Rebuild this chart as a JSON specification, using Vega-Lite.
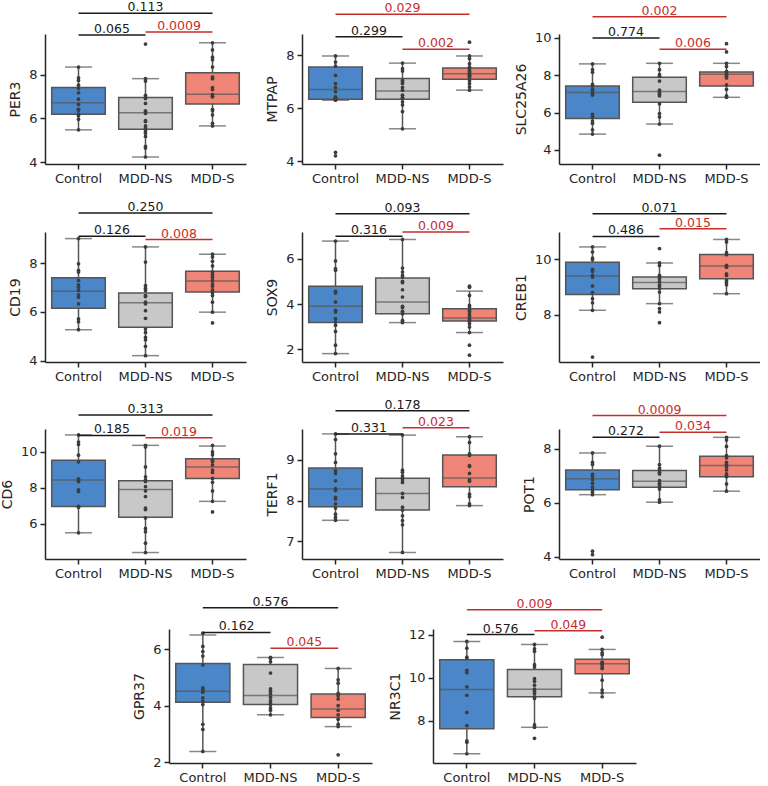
{
"$schema": "https://vega.github.io/schema/vega-lite/v6.json",
"padding": {"left": 0, "top": 1, "right": 0, "bottom": 0},
"config": {
  "view": {"stroke": null},
  "font": "DejaVu Sans",
  "axis": {"domainColor": "#262626", "domainWidth": 1.5, "tickColor": "#262626", "tickWidth": 1.5, "tickSize": 5, "labelFontSize": 13, "labelColor": "#262626", "titleFontSize": 14, "titleFontWeight": "normal", "titleColor": "#262626", "grid": false, "labelPadding": 3},
  "axisX": {"labelAngle": 0},
  "axisY": {"titlePadding": 6}
},
"datasets": {
"boxes": [
{"gene":"PER3","group":"Control","lo":5.48,"q1":6.19,"med":6.72,"q3":7.41,"hi":8.35},
{"gene":"PER3","group":"MDD-NS","lo":4.24,"q1":5.51,"med":6.26,"q3":6.96,"hi":7.82},
{"gene":"PER3","group":"MDD-S","lo":5.66,"q1":6.66,"med":7.11,"q3":8.09,"hi":9.46},
{"gene":"MTPAP","group":"Control","lo":6.31,"q1":6.35,"med":6.71,"q3":7.56,"hi":7.98},
{"gene":"MTPAP","group":"MDD-NS","lo":5.23,"q1":6.35,"med":6.66,"q3":7.13,"hi":7.71},
{"gene":"MTPAP","group":"MDD-S","lo":6.69,"q1":7.10,"med":7.31,"q3":7.53,"hi":7.98},
{"gene":"SLC25A26","group":"Control","lo":4.85,"q1":5.69,"med":7.08,"q3":7.43,"hi":8.61},
{"gene":"SLC25A26","group":"MDD-NS","lo":5.39,"q1":6.56,"med":7.13,"q3":7.90,"hi":8.64},
{"gene":"SLC25A26","group":"MDD-S","lo":6.82,"q1":7.43,"med":8.05,"q3":8.18,"hi":8.64},
{"gene":"CD19","group":"Control","lo":5.27,"q1":6.15,"med":6.85,"q3":7.40,"hi":9.00},
{"gene":"CD19","group":"MDD-NS","lo":4.21,"q1":5.37,"med":6.37,"q3":6.77,"hi":8.66},
{"gene":"CD19","group":"MDD-S","lo":5.99,"q1":6.81,"med":7.26,"q3":7.66,"hi":8.36},
{"gene":"SOX9","group":"Control","lo":1.81,"q1":3.18,"med":3.90,"q3":4.79,"hi":6.78},
{"gene":"SOX9","group":"MDD-NS","lo":3.18,"q1":3.57,"med":4.09,"q3":5.15,"hi":6.85},
{"gene":"SOX9","group":"MDD-S","lo":2.74,"q1":3.25,"med":3.38,"q3":3.79,"hi":4.57},
{"gene":"CREB1","group":"Control","lo":8.16,"q1":8.73,"med":9.40,"q3":9.90,"hi":10.45},
{"gene":"CREB1","group":"MDD-NS","lo":8.40,"q1":8.94,"med":9.16,"q3":9.36,"hi":9.87},
{"gene":"CREB1","group":"MDD-S","lo":8.76,"q1":9.30,"med":9.76,"q3":10.18,"hi":10.72},
{"gene":"CD6","group":"Control","lo":5.50,"q1":6.97,"med":8.44,"q3":9.54,"hi":10.95},
{"gene":"CD6","group":"MDD-NS","lo":4.40,"q1":6.37,"med":7.91,"q3":8.40,"hi":10.37},
{"gene":"CD6","group":"MDD-S","lo":7.25,"q1":8.53,"med":9.17,"q3":9.63,"hi":10.33},
{"gene":"TERF1","group":"Control","lo":7.52,"q1":7.85,"med":8.29,"q3":8.80,"hi":9.64},
{"gene":"TERF1","group":"MDD-NS","lo":6.73,"q1":7.77,"med":8.18,"q3":8.55,"hi":9.61},
{"gene":"TERF1","group":"MDD-S","lo":7.88,"q1":8.34,"med":8.56,"q3":9.12,"hi":9.57},
{"gene":"POT1","group":"Control","lo":6.30,"q1":6.48,"med":6.89,"q3":7.22,"hi":7.85},
{"gene":"POT1","group":"MDD-NS","lo":6.02,"q1":6.58,"med":6.80,"q3":7.20,"hi":8.10},
{"gene":"POT1","group":"MDD-S","lo":6.43,"q1":6.97,"med":7.38,"q3":7.73,"hi":8.43},
{"gene":"GPR37","group":"Control","lo":2.38,"q1":4.12,"med":4.51,"q3":5.50,"hi":6.51},
{"gene":"GPR37","group":"MDD-NS","lo":3.68,"q1":4.04,"med":4.36,"q3":5.46,"hi":5.71},
{"gene":"GPR37","group":"MDD-S","lo":3.26,"q1":3.58,"med":3.88,"q3":4.42,"hi":5.32},
{"gene":"NR3C1","group":"Control","lo":6.46,"q1":7.62,"med":9.45,"q3":10.83,"hi":11.68},
{"gene":"NR3C1","group":"MDD-NS","lo":7.69,"q1":9.11,"med":9.46,"q3":10.38,"hi":11.54},
{"gene":"NR3C1","group":"MDD-S","lo":9.29,"q1":10.18,"med":10.65,"q3":10.85,"hi":11.31}
],
"ann": [
{"gene":"PER3","g1":"Control","g2":"MDD-NS","pair":"C-NS","level":9.81,"label":"0.065","sig":"no"},
{"gene":"PER3","g1":"MDD-NS","g2":"MDD-S","pair":"NS-S","level":9.95,"label":"0.0009","sig":"yes"},
{"gene":"PER3","g1":"Control","g2":"MDD-S","pair":"C-S","level":10.81,"label":"0.113","sig":"no"},
{"gene":"MTPAP","g1":"Control","g2":"MDD-NS","pair":"C-NS","level":8.71,"label":"0.299","sig":"no"},
{"gene":"MTPAP","g1":"MDD-NS","g2":"MDD-S","pair":"NS-S","level":8.23,"label":"0.002","sig":"yes"},
{"gene":"MTPAP","g1":"Control","g2":"MDD-S","pair":"C-S","level":9.56,"label":"0.029","sig":"yes"},
{"gene":"SLC25A26","g1":"Control","g2":"MDD-NS","pair":"C-NS","level":10.0,"label":"0.774","sig":"no"},
{"gene":"SLC25A26","g1":"MDD-NS","g2":"MDD-S","pair":"NS-S","level":9.39,"label":"0.006","sig":"yes"},
{"gene":"SLC25A26","g1":"Control","g2":"MDD-S","pair":"C-S","level":11.13,"label":"0.002","sig":"yes"},
{"gene":"CD19","g1":"Control","g2":"MDD-NS","pair":"C-NS","level":9.1,"label":"0.126","sig":"no"},
{"gene":"CD19","g1":"MDD-NS","g2":"MDD-S","pair":"NS-S","level":8.96,"label":"0.008","sig":"yes"},
{"gene":"CD19","g1":"Control","g2":"MDD-S","pair":"C-S","level":10.05,"label":"0.250","sig":"no"},
{"gene":"SOX9","g1":"Control","g2":"MDD-NS","pair":"C-NS","level":6.99,"label":"0.316","sig":"no"},
{"gene":"SOX9","g1":"MDD-NS","g2":"MDD-S","pair":"NS-S","level":7.18,"label":"0.009","sig":"yes"},
{"gene":"SOX9","g1":"Control","g2":"MDD-S","pair":"C-S","level":7.99,"label":"0.093","sig":"no"},
{"gene":"CREB1","g1":"Control","g2":"MDD-NS","pair":"C-NS","level":10.83,"label":"0.486","sig":"no"},
{"gene":"CREB1","g1":"MDD-NS","g2":"MDD-S","pair":"NS-S","level":11.11,"label":"0.015","sig":"yes"},
{"gene":"CREB1","g1":"Control","g2":"MDD-S","pair":"C-S","level":11.65,"label":"0.071","sig":"no"},
{"gene":"CD6","g1":"Control","g2":"MDD-NS","pair":"C-NS","level":10.92,"label":"0.185","sig":"no"},
{"gene":"CD6","g1":"MDD-NS","g2":"MDD-S","pair":"NS-S","level":10.79,"label":"0.019","sig":"yes"},
{"gene":"CD6","g1":"Control","g2":"MDD-S","pair":"C-S","level":12.06,"label":"0.313","sig":"no"},
{"gene":"TERF1","g1":"Control","g2":"MDD-NS","pair":"C-NS","level":9.64,"label":"0.331","sig":"no"},
{"gene":"TERF1","g1":"MDD-NS","g2":"MDD-S","pair":"NS-S","level":9.79,"label":"0.023","sig":"yes"},
{"gene":"TERF1","g1":"Control","g2":"MDD-S","pair":"C-S","level":10.21,"label":"0.178","sig":"no"},
{"gene":"POT1","g1":"Control","g2":"MDD-NS","pair":"C-NS","level":8.43,"label":"0.272","sig":"no"},
{"gene":"POT1","g1":"MDD-NS","g2":"MDD-S","pair":"NS-S","level":8.62,"label":"0.034","sig":"yes"},
{"gene":"POT1","g1":"Control","g2":"MDD-S","pair":"C-S","level":9.24,"label":"0.0009","sig":"yes"},
{"gene":"GPR37","g1":"Control","g2":"MDD-NS","pair":"C-NS","level":6.6,"label":"0.162","sig":"no"},
{"gene":"GPR37","g1":"MDD-NS","g2":"MDD-S","pair":"NS-S","level":6.04,"label":"0.045","sig":"yes"},
{"gene":"GPR37","g1":"Control","g2":"MDD-S","pair":"C-S","level":7.47,"label":"0.576","sig":"no"},
{"gene":"NR3C1","g1":"Control","g2":"MDD-NS","pair":"C-NS","level":12.0,"label":"0.576","sig":"no"},
{"gene":"NR3C1","g1":"MDD-NS","g2":"MDD-S","pair":"NS-S","level":12.18,"label":"0.049","sig":"yes"},
{"gene":"NR3C1","g1":"Control","g2":"MDD-S","pair":"C-S","level":13.15,"label":"0.009","sig":"yes"}
],
"points": [
{"gene":"PER3","group":"Control","value":8.35},{"gene":"PER3","group":"Control","value":7.85},{"gene":"PER3","group":"Control","value":7.74},{"gene":"PER3","group":"Control","value":7.52},{"gene":"PER3","group":"Control","value":7.37},{"gene":"PER3","group":"Control","value":7.17},{"gene":"PER3","group":"Control","value":6.88},{"gene":"PER3","group":"Control","value":6.64},{"gene":"PER3","group":"Control","value":6.42},{"gene":"PER3","group":"Control","value":6.38},{"gene":"PER3","group":"Control","value":6.2},{"gene":"PER3","group":"Control","value":6.13},{"gene":"PER3","group":"Control","value":5.96},{"gene":"PER3","group":"Control","value":5.48},
{"gene":"PER3","group":"MDD-NS","value":9.40},{"gene":"PER3","group":"MDD-NS","value":7.82},{"gene":"PER3","group":"MDD-NS","value":7.71},{"gene":"PER3","group":"MDD-NS","value":7.06},{"gene":"PER3","group":"MDD-NS","value":6.99},{"gene":"PER3","group":"MDD-NS","value":6.91},{"gene":"PER3","group":"MDD-NS","value":6.69},{"gene":"PER3","group":"MDD-NS","value":6.35},{"gene":"PER3","group":"MDD-NS","value":6.31},{"gene":"PER3","group":"MDD-NS","value":6.23},{"gene":"PER3","group":"MDD-NS","value":5.90},{"gene":"PER3","group":"MDD-NS","value":5.86},{"gene":"PER3","group":"MDD-NS","value":5.66},{"gene":"PER3","group":"MDD-NS","value":5.56},{"gene":"PER3","group":"MDD-NS","value":5.43},{"gene":"PER3","group":"MDD-NS","value":5.33},{"gene":"PER3","group":"MDD-NS","value":5.18},{"gene":"PER3","group":"MDD-NS","value":4.72},{"gene":"PER3","group":"MDD-NS","value":4.65},{"gene":"PER3","group":"MDD-NS","value":4.24},
{"gene":"PER3","group":"MDD-S","value":9.46},{"gene":"PER3","group":"MDD-S","value":9.13},{"gene":"PER3","group":"MDD-S","value":8.80},{"gene":"PER3","group":"MDD-S","value":8.68},{"gene":"PER3","group":"MDD-S","value":8.35},{"gene":"PER3","group":"MDD-S","value":7.89},{"gene":"PER3","group":"MDD-S","value":7.82},{"gene":"PER3","group":"MDD-S","value":7.41},{"gene":"PER3","group":"MDD-S","value":7.32},{"gene":"PER3","group":"MDD-S","value":7.09},{"gene":"PER3","group":"MDD-S","value":7.02},{"gene":"PER3","group":"MDD-S","value":6.99},{"gene":"PER3","group":"MDD-S","value":6.42},{"gene":"PER3","group":"MDD-S","value":6.35},{"gene":"PER3","group":"MDD-S","value":6.16},{"gene":"PER3","group":"MDD-S","value":5.78},{"gene":"PER3","group":"MDD-S","value":5.66},
{"gene":"MTPAP","group":"Control","value":7.98},{"gene":"MTPAP","group":"Control","value":7.75},{"gene":"MTPAP","group":"Control","value":7.6},{"gene":"MTPAP","group":"Control","value":7.25},{"gene":"MTPAP","group":"Control","value":6.94},{"gene":"MTPAP","group":"Control","value":6.79},{"gene":"MTPAP","group":"Control","value":6.63},{"gene":"MTPAP","group":"Control","value":6.44},{"gene":"MTPAP","group":"Control","value":6.4},{"gene":"MTPAP","group":"Control","value":6.38},{"gene":"MTPAP","group":"Control","value":6.35},{"gene":"MTPAP","group":"Control","value":6.34},{"gene":"MTPAP","group":"Control","value":6.31},{"gene":"MTPAP","group":"Control","value":4.34},{"gene":"MTPAP","group":"Control","value":4.21},
{"gene":"MTPAP","group":"MDD-NS","value":7.71},{"gene":"MTPAP","group":"MDD-NS","value":7.5},{"gene":"MTPAP","group":"MDD-NS","value":7.41},{"gene":"MTPAP","group":"MDD-NS","value":7.06},{"gene":"MTPAP","group":"MDD-NS","value":7.0},{"gene":"MTPAP","group":"MDD-NS","value":6.94},{"gene":"MTPAP","group":"MDD-NS","value":6.79},{"gene":"MTPAP","group":"MDD-NS","value":6.69},{"gene":"MTPAP","group":"MDD-NS","value":6.5},{"gene":"MTPAP","group":"MDD-NS","value":6.41},{"gene":"MTPAP","group":"MDD-NS","value":6.38},{"gene":"MTPAP","group":"MDD-NS","value":6.25},{"gene":"MTPAP","group":"MDD-NS","value":6.13},{"gene":"MTPAP","group":"MDD-NS","value":5.88},{"gene":"MTPAP","group":"MDD-NS","value":5.23},
{"gene":"MTPAP","group":"MDD-S","value":8.5},{"gene":"MTPAP","group":"MDD-S","value":7.98},{"gene":"MTPAP","group":"MDD-S","value":7.88},{"gene":"MTPAP","group":"MDD-S","value":7.69},{"gene":"MTPAP","group":"MDD-S","value":7.56},{"gene":"MTPAP","group":"MDD-S","value":7.5},{"gene":"MTPAP","group":"MDD-S","value":7.41},{"gene":"MTPAP","group":"MDD-S","value":7.38},{"gene":"MTPAP","group":"MDD-S","value":7.34},{"gene":"MTPAP","group":"MDD-S","value":7.29},{"gene":"MTPAP","group":"MDD-S","value":7.25},{"gene":"MTPAP","group":"MDD-S","value":7.21},{"gene":"MTPAP","group":"MDD-S","value":7.16},{"gene":"MTPAP","group":"MDD-S","value":7.04},{"gene":"MTPAP","group":"MDD-S","value":6.94},{"gene":"MTPAP","group":"MDD-S","value":6.81},{"gene":"MTPAP","group":"MDD-S","value":6.69},
{"gene":"SLC25A26","group":"Control","value":8.61},{"gene":"SLC25A26","group":"Control","value":8.30},{"gene":"SLC25A26","group":"Control","value":8.16},{"gene":"SLC25A26","group":"Control","value":7.51},{"gene":"SLC25A26","group":"Control","value":7.43},{"gene":"SLC25A26","group":"Control","value":7.25},{"gene":"SLC25A26","group":"Control","value":7.17},{"gene":"SLC25A26","group":"Control","value":7.03},{"gene":"SLC25A26","group":"Control","value":6.94},{"gene":"SLC25A26","group":"Control","value":5.91},{"gene":"SLC25A26","group":"Control","value":5.77},{"gene":"SLC25A26","group":"Control","value":5.55},{"gene":"SLC25A26","group":"Control","value":5.43},{"gene":"SLC25A26","group":"Control","value":5.08},{"gene":"SLC25A26","group":"Control","value":4.85},
{"gene":"SLC25A26","group":"MDD-NS","value":8.64},{"gene":"SLC25A26","group":"MDD-NS","value":8.3},{"gene":"SLC25A26","group":"MDD-NS","value":8.03},{"gene":"SLC25A26","group":"MDD-NS","value":7.95},{"gene":"SLC25A26","group":"MDD-NS","value":7.69},{"gene":"SLC25A26","group":"MDD-NS","value":7.2},{"gene":"SLC25A26","group":"MDD-NS","value":7.08},{"gene":"SLC25A26","group":"MDD-NS","value":6.99},{"gene":"SLC25A26","group":"MDD-NS","value":6.9},{"gene":"SLC25A26","group":"MDD-NS","value":6.47},{"gene":"SLC25A26","group":"MDD-NS","value":5.95},{"gene":"SLC25A26","group":"MDD-NS","value":5.77},{"gene":"SLC25A26","group":"MDD-NS","value":5.39},{"gene":"SLC25A26","group":"MDD-NS","value":3.72},
{"gene":"SLC25A26","group":"MDD-S","value":9.69},{"gene":"SLC25A26","group":"MDD-S","value":9.25},{"gene":"SLC25A26","group":"MDD-S","value":8.64},{"gene":"SLC25A26","group":"MDD-S","value":8.47},{"gene":"SLC25A26","group":"MDD-S","value":8.21},{"gene":"SLC25A26","group":"MDD-S","value":8.12},{"gene":"SLC25A26","group":"MDD-S","value":8.03},{"gene":"SLC25A26","group":"MDD-S","value":7.95},{"gene":"SLC25A26","group":"MDD-S","value":7.86},{"gene":"SLC25A26","group":"MDD-S","value":7.48},{"gene":"SLC25A26","group":"MDD-S","value":7.25},{"gene":"SLC25A26","group":"MDD-S","value":6.9},{"gene":"SLC25A26","group":"MDD-S","value":6.85},{"gene":"SLC25A26","group":"MDD-S","value":6.82},
{"gene":"CD19","group":"Control","value":9.0},{"gene":"CD19","group":"Control","value":7.97},{"gene":"CD19","group":"Control","value":7.7},{"gene":"CD19","group":"Control","value":7.63},{"gene":"CD19","group":"Control","value":7.29},{"gene":"CD19","group":"Control","value":7.11},{"gene":"CD19","group":"Control","value":7.01},{"gene":"CD19","group":"Control","value":6.88},{"gene":"CD19","group":"Control","value":6.7},{"gene":"CD19","group":"Control","value":6.6},{"gene":"CD19","group":"Control","value":6.33},{"gene":"CD19","group":"Control","value":5.71},{"gene":"CD19","group":"Control","value":5.6},{"gene":"CD19","group":"Control","value":5.27},
{"gene":"CD19","group":"MDD-NS","value":8.66},{"gene":"CD19","group":"MDD-NS","value":8.04},{"gene":"CD19","group":"MDD-NS","value":7.08},{"gene":"CD19","group":"MDD-NS","value":6.97},{"gene":"CD19","group":"MDD-NS","value":6.88},{"gene":"CD19","group":"MDD-NS","value":6.67},{"gene":"CD19","group":"MDD-NS","value":6.63},{"gene":"CD19","group":"MDD-NS","value":6.4},{"gene":"CD19","group":"MDD-NS","value":6.33},{"gene":"CD19","group":"MDD-NS","value":6.05},{"gene":"CD19","group":"MDD-NS","value":5.74},{"gene":"CD19","group":"MDD-NS","value":5.3},{"gene":"CD19","group":"MDD-NS","value":5.16},{"gene":"CD19","group":"MDD-NS","value":4.96},{"gene":"CD19","group":"MDD-NS","value":4.86},{"gene":"CD19","group":"MDD-NS","value":4.59},{"gene":"CD19","group":"MDD-NS","value":4.21},
{"gene":"CD19","group":"MDD-S","value":8.36},{"gene":"CD19","group":"MDD-S","value":8.25},{"gene":"CD19","group":"MDD-S","value":8.07},{"gene":"CD19","group":"MDD-S","value":7.88},{"gene":"CD19","group":"MDD-S","value":7.63},{"gene":"CD19","group":"MDD-S","value":7.53},{"gene":"CD19","group":"MDD-S","value":7.42},{"gene":"CD19","group":"MDD-S","value":7.29},{"gene":"CD19","group":"MDD-S","value":7.15},{"gene":"CD19","group":"MDD-S","value":7.05},{"gene":"CD19","group":"MDD-S","value":6.9},{"gene":"CD19","group":"MDD-S","value":6.78},{"gene":"CD19","group":"MDD-S","value":6.67},{"gene":"CD19","group":"MDD-S","value":6.4},{"gene":"CD19","group":"MDD-S","value":5.99},{"gene":"CD19","group":"MDD-S","value":5.55},
{"gene":"SOX9","group":"Control","value":6.78},{"gene":"SOX9","group":"Control","value":5.9},{"gene":"SOX9","group":"Control","value":5.56},{"gene":"SOX9","group":"Control","value":5.49},{"gene":"SOX9","group":"Control","value":4.56},{"gene":"SOX9","group":"Control","value":4.49},{"gene":"SOX9","group":"Control","value":4.09},{"gene":"SOX9","group":"Control","value":3.72},{"gene":"SOX9","group":"Control","value":3.65},{"gene":"SOX9","group":"Control","value":3.35},{"gene":"SOX9","group":"Control","value":3.21},{"gene":"SOX9","group":"Control","value":3.06},{"gene":"SOX9","group":"Control","value":2.79},{"gene":"SOX9","group":"Control","value":2.18},{"gene":"SOX9","group":"Control","value":1.81},
{"gene":"SOX9","group":"MDD-NS","value":6.85},{"gene":"SOX9","group":"MDD-NS","value":5.59},{"gene":"SOX9","group":"MDD-NS","value":5.41},{"gene":"SOX9","group":"MDD-NS","value":5.26},{"gene":"SOX9","group":"MDD-NS","value":5.19},{"gene":"SOX9","group":"MDD-NS","value":5.0},{"gene":"SOX9","group":"MDD-NS","value":4.94},{"gene":"SOX9","group":"MDD-NS","value":4.63},{"gene":"SOX9","group":"MDD-NS","value":4.31},{"gene":"SOX9","group":"MDD-NS","value":3.9},{"gene":"SOX9","group":"MDD-NS","value":3.84},{"gene":"SOX9","group":"MDD-NS","value":3.68},{"gene":"SOX9","group":"MDD-NS","value":3.62},{"gene":"SOX9","group":"MDD-NS","value":3.57},{"gene":"SOX9","group":"MDD-NS","value":3.28},{"gene":"SOX9","group":"MDD-NS","value":3.21},{"gene":"SOX9","group":"MDD-NS","value":3.18},
{"gene":"SOX9","group":"MDD-S","value":4.79},{"gene":"SOX9","group":"MDD-S","value":4.74},{"gene":"SOX9","group":"MDD-S","value":4.38},{"gene":"SOX9","group":"MDD-S","value":3.94},{"gene":"SOX9","group":"MDD-S","value":3.87},{"gene":"SOX9","group":"MDD-S","value":3.72},{"gene":"SOX9","group":"MDD-S","value":3.65},{"gene":"SOX9","group":"MDD-S","value":3.53},{"gene":"SOX9","group":"MDD-S","value":3.43},{"gene":"SOX9","group":"MDD-S","value":3.32},{"gene":"SOX9","group":"MDD-S","value":3.24},{"gene":"SOX9","group":"MDD-S","value":3.13},{"gene":"SOX9","group":"MDD-S","value":2.99},{"gene":"SOX9","group":"MDD-S","value":2.74},{"gene":"SOX9","group":"MDD-S","value":2.18},{"gene":"SOX9","group":"MDD-S","value":1.74},
{"gene":"CREB1","group":"Control","value":10.45},{"gene":"CREB1","group":"Control","value":10.27},{"gene":"CREB1","group":"Control","value":10.05},{"gene":"CREB1","group":"Control","value":10.0},{"gene":"CREB1","group":"Control","value":9.64},{"gene":"CREB1","group":"Control","value":9.57},{"gene":"CREB1","group":"Control","value":9.42},{"gene":"CREB1","group":"Control","value":9.36},{"gene":"CREB1","group":"Control","value":9.04},{"gene":"CREB1","group":"Control","value":8.8},{"gene":"CREB1","group":"Control","value":8.58},{"gene":"CREB1","group":"Control","value":8.43},{"gene":"CREB1","group":"Control","value":8.16},{"gene":"CREB1","group":"Control","value":6.47},
{"gene":"CREB1","group":"MDD-NS","value":10.39},{"gene":"CREB1","group":"MDD-NS","value":9.87},{"gene":"CREB1","group":"MDD-NS","value":9.78},{"gene":"CREB1","group":"MDD-NS","value":9.42},{"gene":"CREB1","group":"MDD-NS","value":9.39},{"gene":"CREB1","group":"MDD-NS","value":9.3},{"gene":"CREB1","group":"MDD-NS","value":9.2},{"gene":"CREB1","group":"MDD-NS","value":9.08},{"gene":"CREB1","group":"MDD-NS","value":9.04},{"gene":"CREB1","group":"MDD-NS","value":8.96},{"gene":"CREB1","group":"MDD-NS","value":8.82},{"gene":"CREB1","group":"MDD-NS","value":8.4},{"gene":"CREB1","group":"MDD-NS","value":8.22},{"gene":"CREB1","group":"MDD-NS","value":8.1},{"gene":"CREB1","group":"MDD-NS","value":7.71},
{"gene":"CREB1","group":"MDD-S","value":10.72},{"gene":"CREB1","group":"MDD-S","value":10.63},{"gene":"CREB1","group":"MDD-S","value":10.24},{"gene":"CREB1","group":"MDD-S","value":10.17},{"gene":"CREB1","group":"MDD-S","value":9.78},{"gene":"CREB1","group":"MDD-S","value":9.72},{"gene":"CREB1","group":"MDD-S","value":9.48},{"gene":"CREB1","group":"MDD-S","value":9.42},{"gene":"CREB1","group":"MDD-S","value":9.24},{"gene":"CREB1","group":"MDD-S","value":9.16},{"gene":"CREB1","group":"MDD-S","value":9.08},{"gene":"CREB1","group":"MDD-S","value":8.76},
{"gene":"CD6","group":"Control","value":10.95},{"gene":"CD6","group":"Control","value":10.55},{"gene":"CD6","group":"Control","value":10.42},{"gene":"CD6","group":"Control","value":9.82},{"gene":"CD6","group":"Control","value":9.45},{"gene":"CD6","group":"Control","value":8.5},{"gene":"CD6","group":"Control","value":8.44},{"gene":"CD6","group":"Control","value":8.35},{"gene":"CD6","group":"Control","value":7.89},{"gene":"CD6","group":"Control","value":7.8},{"gene":"CD6","group":"Control","value":6.97},{"gene":"CD6","group":"Control","value":6.92},{"gene":"CD6","group":"Control","value":5.5},
{"gene":"CD6","group":"MDD-NS","value":10.37},{"gene":"CD6","group":"MDD-NS","value":10.28},{"gene":"CD6","group":"MDD-NS","value":9.17},{"gene":"CD6","group":"MDD-NS","value":8.62},{"gene":"CD6","group":"MDD-NS","value":8.44},{"gene":"CD6","group":"MDD-NS","value":8.35},{"gene":"CD6","group":"MDD-NS","value":8.07},{"gene":"CD6","group":"MDD-NS","value":7.83},{"gene":"CD6","group":"MDD-NS","value":7.52},{"gene":"CD6","group":"MDD-NS","value":6.88},{"gene":"CD6","group":"MDD-NS","value":6.79},{"gene":"CD6","group":"MDD-NS","value":6.33},{"gene":"CD6","group":"MDD-NS","value":5.74},{"gene":"CD6","group":"MDD-NS","value":5.56},{"gene":"CD6","group":"MDD-NS","value":4.92},{"gene":"CD6","group":"MDD-NS","value":4.4},
{"gene":"CD6","group":"MDD-S","value":10.37},{"gene":"CD6","group":"MDD-S","value":10.0},{"gene":"CD6","group":"MDD-S","value":9.85},{"gene":"CD6","group":"MDD-S","value":9.54},{"gene":"CD6","group":"MDD-S","value":9.45},{"gene":"CD6","group":"MDD-S","value":9.27},{"gene":"CD6","group":"MDD-S","value":8.99},{"gene":"CD6","group":"MDD-S","value":8.86},{"gene":"CD6","group":"MDD-S","value":8.53},{"gene":"CD6","group":"MDD-S","value":8.31},{"gene":"CD6","group":"MDD-S","value":7.83},{"gene":"CD6","group":"MDD-S","value":7.25},{"gene":"CD6","group":"MDD-S","value":6.66},
{"gene":"TERF1","group":"Control","value":9.64},{"gene":"TERF1","group":"Control","value":9.5},{"gene":"TERF1","group":"Control","value":9.15},{"gene":"TERF1","group":"Control","value":8.94},{"gene":"TERF1","group":"Control","value":8.74},{"gene":"TERF1","group":"Control","value":8.67},{"gene":"TERF1","group":"Control","value":8.49},{"gene":"TERF1","group":"Control","value":8.3},{"gene":"TERF1","group":"Control","value":8.25},{"gene":"TERF1","group":"Control","value":8.08},{"gene":"TERF1","group":"Control","value":8.04},{"gene":"TERF1","group":"Control","value":7.92},{"gene":"TERF1","group":"Control","value":7.82},{"gene":"TERF1","group":"Control","value":7.67},{"gene":"TERF1","group":"Control","value":7.59},{"gene":"TERF1","group":"Control","value":7.52},
{"gene":"TERF1","group":"MDD-NS","value":9.61},{"gene":"TERF1","group":"MDD-NS","value":8.75},{"gene":"TERF1","group":"MDD-NS","value":8.7},{"gene":"TERF1","group":"MDD-NS","value":8.61},{"gene":"TERF1","group":"MDD-NS","value":8.56},{"gene":"TERF1","group":"MDD-NS","value":8.51},{"gene":"TERF1","group":"MDD-NS","value":8.45},{"gene":"TERF1","group":"MDD-NS","value":8.18},{"gene":"TERF1","group":"MDD-NS","value":8.08},{"gene":"TERF1","group":"MDD-NS","value":7.84},{"gene":"TERF1","group":"MDD-NS","value":7.77},{"gene":"TERF1","group":"MDD-NS","value":7.63},{"gene":"TERF1","group":"MDD-NS","value":7.51},{"gene":"TERF1","group":"MDD-NS","value":7.41},{"gene":"TERF1","group":"MDD-NS","value":6.73},
{"gene":"TERF1","group":"MDD-S","value":9.57},{"gene":"TERF1","group":"MDD-S","value":9.43},{"gene":"TERF1","group":"MDD-S","value":9.15},{"gene":"TERF1","group":"MDD-S","value":9.11},{"gene":"TERF1","group":"MDD-S","value":8.86},{"gene":"TERF1","group":"MDD-S","value":8.84},{"gene":"TERF1","group":"MDD-S","value":8.67},{"gene":"TERF1","group":"MDD-S","value":8.51},{"gene":"TERF1","group":"MDD-S","value":8.48},{"gene":"TERF1","group":"MDD-S","value":8.16},{"gene":"TERF1","group":"MDD-S","value":8.1},{"gene":"TERF1","group":"MDD-S","value":7.92},{"gene":"TERF1","group":"MDD-S","value":7.88},
{"gene":"POT1","group":"Control","value":7.85},{"gene":"POT1","group":"Control","value":7.5},{"gene":"POT1","group":"Control","value":7.42},{"gene":"POT1","group":"Control","value":7.05},{"gene":"POT1","group":"Control","value":6.97},{"gene":"POT1","group":"Control","value":6.85},{"gene":"POT1","group":"Control","value":6.72},{"gene":"POT1","group":"Control","value":6.58},{"gene":"POT1","group":"Control","value":6.48},{"gene":"POT1","group":"Control","value":6.39},{"gene":"POT1","group":"Control","value":6.3},{"gene":"POT1","group":"Control","value":4.2},{"gene":"POT1","group":"Control","value":4.07},
{"gene":"POT1","group":"MDD-NS","value":8.1},{"gene":"POT1","group":"MDD-NS","value":7.42},{"gene":"POT1","group":"MDD-NS","value":7.29},{"gene":"POT1","group":"MDD-NS","value":7.22},{"gene":"POT1","group":"MDD-NS","value":7.13},{"gene":"POT1","group":"MDD-NS","value":7.07},{"gene":"POT1","group":"MDD-NS","value":6.82},{"gene":"POT1","group":"MDD-NS","value":6.72},{"gene":"POT1","group":"MDD-NS","value":6.67},{"gene":"POT1","group":"MDD-NS","value":6.6},{"gene":"POT1","group":"MDD-NS","value":6.51},{"gene":"POT1","group":"MDD-NS","value":6.11},{"gene":"POT1","group":"MDD-NS","value":6.02},
{"gene":"POT1","group":"MDD-S","value":8.43},{"gene":"POT1","group":"MDD-S","value":8.33},{"gene":"POT1","group":"MDD-S","value":8.09},{"gene":"POT1","group":"MDD-S","value":7.75},{"gene":"POT1","group":"MDD-S","value":7.67},{"gene":"POT1","group":"MDD-S","value":7.5},{"gene":"POT1","group":"MDD-S","value":7.42},{"gene":"POT1","group":"MDD-S","value":7.34},{"gene":"POT1","group":"MDD-S","value":7.22},{"gene":"POT1","group":"MDD-S","value":7.07},{"gene":"POT1","group":"MDD-S","value":7.01},{"gene":"POT1","group":"MDD-S","value":6.97},{"gene":"POT1","group":"MDD-S","value":6.7},{"gene":"POT1","group":"MDD-S","value":6.43},
{"gene":"GPR37","group":"Control","value":6.57},{"gene":"GPR37","group":"Control","value":6.1},{"gene":"GPR37","group":"Control","value":5.92},{"gene":"GPR37","group":"Control","value":5.76},{"gene":"GPR37","group":"Control","value":5.44},{"gene":"GPR37","group":"Control","value":4.63},{"gene":"GPR37","group":"Control","value":4.56},{"gene":"GPR37","group":"Control","value":4.48},{"gene":"GPR37","group":"Control","value":4.28},{"gene":"GPR37","group":"Control","value":4.16},{"gene":"GPR37","group":"Control","value":4.04},{"gene":"GPR37","group":"Control","value":3.34},{"gene":"GPR37","group":"Control","value":3.16},{"gene":"GPR37","group":"Control","value":2.38},
{"gene":"GPR37","group":"MDD-NS","value":5.71},{"gene":"GPR37","group":"MDD-NS","value":5.68},{"gene":"GPR37","group":"MDD-NS","value":5.56},{"gene":"GPR37","group":"MDD-NS","value":5.16},{"gene":"GPR37","group":"MDD-NS","value":4.6},{"gene":"GPR37","group":"MDD-NS","value":4.51},{"gene":"GPR37","group":"MDD-NS","value":4.42},{"gene":"GPR37","group":"MDD-NS","value":4.3},{"gene":"GPR37","group":"MDD-NS","value":4.18},{"gene":"GPR37","group":"MDD-NS","value":4.1},{"gene":"GPR37","group":"MDD-NS","value":4.04},{"gene":"GPR37","group":"MDD-NS","value":3.92},{"gene":"GPR37","group":"MDD-NS","value":3.84},{"gene":"GPR37","group":"MDD-NS","value":3.68},
{"gene":"GPR37","group":"MDD-S","value":5.32},{"gene":"GPR37","group":"MDD-S","value":4.92},{"gene":"GPR37","group":"MDD-S","value":4.8},{"gene":"GPR37","group":"MDD-S","value":4.44},{"gene":"GPR37","group":"MDD-S","value":4.36},{"gene":"GPR37","group":"MDD-S","value":4.24},{"gene":"GPR37","group":"MDD-S","value":4.0},{"gene":"GPR37","group":"MDD-S","value":3.84},{"gene":"GPR37","group":"MDD-S","value":3.68},{"gene":"GPR37","group":"MDD-S","value":3.52},{"gene":"GPR37","group":"MDD-S","value":3.34},{"gene":"GPR37","group":"MDD-S","value":3.26},{"gene":"GPR37","group":"MDD-S","value":2.26},
{"gene":"NR3C1","group":"Control","value":11.68},{"gene":"NR3C1","group":"Control","value":11.37},{"gene":"NR3C1","group":"Control","value":10.95},{"gene":"NR3C1","group":"Control","value":10.91},{"gene":"NR3C1","group":"Control","value":10.34},{"gene":"NR3C1","group":"Control","value":10.23},{"gene":"NR3C1","group":"Control","value":9.57},{"gene":"NR3C1","group":"Control","value":9.18},{"gene":"NR3C1","group":"Control","value":8.38},{"gene":"NR3C1","group":"Control","value":7.77},{"gene":"NR3C1","group":"Control","value":7.06},{"gene":"NR3C1","group":"Control","value":7.0},{"gene":"NR3C1","group":"Control","value":6.46},
{"gene":"NR3C1","group":"MDD-NS","value":11.54},{"gene":"NR3C1","group":"MDD-NS","value":11.34},{"gene":"NR3C1","group":"MDD-NS","value":11.22},{"gene":"NR3C1","group":"MDD-NS","value":10.6},{"gene":"NR3C1","group":"MDD-NS","value":10.49},{"gene":"NR3C1","group":"MDD-NS","value":9.95},{"gene":"NR3C1","group":"MDD-NS","value":9.83},{"gene":"NR3C1","group":"MDD-NS","value":9.65},{"gene":"NR3C1","group":"MDD-NS","value":9.46},{"gene":"NR3C1","group":"MDD-NS","value":9.37},{"gene":"NR3C1","group":"MDD-NS","value":9.26},{"gene":"NR3C1","group":"MDD-NS","value":9.11},{"gene":"NR3C1","group":"MDD-NS","value":9.03},{"gene":"NR3C1","group":"MDD-NS","value":7.8},{"gene":"NR3C1","group":"MDD-NS","value":7.69},{"gene":"NR3C1","group":"MDD-NS","value":7.18},
{"gene":"NR3C1","group":"MDD-S","value":11.88},{"gene":"NR3C1","group":"MDD-S","value":11.31},{"gene":"NR3C1","group":"MDD-S","value":11.15},{"gene":"NR3C1","group":"MDD-S","value":11.06},{"gene":"NR3C1","group":"MDD-S","value":10.72},{"gene":"NR3C1","group":"MDD-S","value":10.68},{"gene":"NR3C1","group":"MDD-S","value":10.65},{"gene":"NR3C1","group":"MDD-S","value":10.6},{"gene":"NR3C1","group":"MDD-S","value":10.49},{"gene":"NR3C1","group":"MDD-S","value":10.42},{"gene":"NR3C1","group":"MDD-S","value":9.88},{"gene":"NR3C1","group":"MDD-S","value":9.42},{"gene":"NR3C1","group":"MDD-S","value":9.29},{"gene":"NR3C1","group":"MDD-S","value":9.11}
]
},
"vconcat": [
{"hconcat": [
{"width": 201, "height": 130, "layer": [
 {"data":{"name":"boxes"},"transform":[{"filter":"datum.gene==='PER3'"}],"mark":{"type":"rule","color":"#555555","strokeWidth":1.5},"encoding":{"x":{"field":"group","type":"nominal","bandPosition":0.5,"scale":{"type":"band","domain":["Control","MDD-NS","MDD-S"],"paddingInner":0,"paddingOuter":0},"axis":{"title":null}},"y":{"field":"lo","type":"quantitative","scale":{"domain":[3.92,9.86],"nice":false,"zero":false},"axis":{"title":"PER3","values":[4,6,8]}},"y2":{"field":"hi"}}},
 {"data":{"name":"boxes"},"transform":[{"filter":"datum.gene==='PER3'"}],"mark":{"type":"bar","width":{"band":0.8},"stroke":"#555555","strokeWidth":1.5},"encoding":{"x":{"field":"group","type":"nominal"},"y":{"field":"q1","type":"quantitative"},"y2":{"field":"q3"},"fill":{"field":"group","type":"nominal","scale":{"domain":["Control","MDD-NS","MDD-S"],"range":["#4a86c8","#c8c8c8","#ef8576"]},"legend":null}}},
 {"data":{"name":"boxes"},"transform":[{"filter":"datum.gene==='PER3'"}],"mark":{"type":"tick","orient":"horizontal","size":54,"thickness":1.5,"color":"#555555"},"encoding":{"x":{"field":"group","type":"nominal"},"y":{"field":"med","type":"quantitative"}}},
 {"data":{"name":"boxes"},"transform":[{"filter":"datum.gene==='PER3'"},{"fold":["lo","hi"],"as":["k","v"]}],"mark":{"type":"tick","orient":"horizontal","size":27,"thickness":1.5,"color":"#555555"},"encoding":{"x":{"field":"group","type":"nominal"},"y":{"field":"v","type":"quantitative"}}},
 {"data":{"name":"points"},"transform":[{"filter":"datum.gene==='PER3'"}],"mark":{"type":"circle","size":14,"color":"#3d3d3d","opacity":1},"encoding":{"x":{"field":"group","type":"nominal","bandPosition":0.5},"y":{"field":"value","type":"quantitative"}}},
 {"data":{"name":"ann"},"transform":[{"filter":"datum.gene==='PER3'"}],"mark":{"type":"rule","strokeWidth":1.5},"encoding":{"x":{"field":"g1","type":"nominal","bandPosition":0.5},"x2":{"field":"g2","bandPosition":0.5},"y":{"field":"level","type":"quantitative"},"color":{"condition":{"test":"datum.sig==='yes'","value":"#c62d2d"},"value":"#1a1a1a"}}},
 {"data":{"name":"ann"},"transform":[{"filter":"datum.gene==='PER3' && datum.pair!=='C-S'"}],"mark":{"type":"text","fontSize":12.5,"baseline":"alphabetic","dy":-2},"encoding":{"x":{"field":"g1","type":"nominal","bandPosition":1},"y":{"field":"level","type":"quantitative"},"text":{"field":"label"},"color":{"condition":{"test":"datum.sig==='yes'","value":"#c62d2d"},"value":"#1a1a1a"}}},
 {"data":{"name":"ann"},"transform":[{"filter":"datum.gene==='PER3' && datum.pair==='C-S'"}],"mark":{"type":"text","fontSize":12.5,"baseline":"alphabetic","dy":-2},"encoding":{"x":{"datum":"MDD-NS","type":"nominal","bandPosition":0.5},"y":{"field":"level","type":"quantitative"},"text":{"field":"label"},"color":{"condition":{"test":"datum.sig==='yes'","value":"#c62d2d"},"value":"#1a1a1a"}}}
]},
{"width": 201, "height": 130, "layer": [
 {"data":{"name":"boxes"},"transform":[{"filter":"datum.gene==='MTPAP'"}],"mark":{"type":"rule","color":"#555555","strokeWidth":1.5},"encoding":{"x":{"field":"group","type":"nominal","bandPosition":0.5,"scale":{"type":"band","domain":["Control","MDD-NS","MDD-S"],"paddingInner":0,"paddingOuter":0},"axis":{"title":null}},"y":{"field":"lo","type":"quantitative","scale":{"domain":[3.9,8.81],"nice":false,"zero":false},"axis":{"title":"MTPAP","values":[4,6,8]}},"y2":{"field":"hi"}}},
 {"data":{"name":"boxes"},"transform":[{"filter":"datum.gene==='MTPAP'"}],"mark":{"type":"bar","width":{"band":0.8},"stroke":"#555555","strokeWidth":1.5},"encoding":{"x":{"field":"group","type":"nominal"},"y":{"field":"q1","type":"quantitative"},"y2":{"field":"q3"},"fill":{"field":"group","type":"nominal","scale":{"domain":["Control","MDD-NS","MDD-S"],"range":["#4a86c8","#c8c8c8","#ef8576"]},"legend":null}}},
 {"data":{"name":"boxes"},"transform":[{"filter":"datum.gene==='MTPAP'"}],"mark":{"type":"tick","orient":"horizontal","size":54,"thickness":1.5,"color":"#555555"},"encoding":{"x":{"field":"group","type":"nominal"},"y":{"field":"med","type":"quantitative"}}},
 {"data":{"name":"boxes"},"transform":[{"filter":"datum.gene==='MTPAP'"},{"fold":["lo","hi"],"as":["k","v"]}],"mark":{"type":"tick","orient":"horizontal","size":27,"thickness":1.5,"color":"#555555"},"encoding":{"x":{"field":"group","type":"nominal"},"y":{"field":"v","type":"quantitative"}}},
 {"data":{"name":"points"},"transform":[{"filter":"datum.gene==='MTPAP'"}],"mark":{"type":"circle","size":14,"color":"#3d3d3d","opacity":1},"encoding":{"x":{"field":"group","type":"nominal","bandPosition":0.5},"y":{"field":"value","type":"quantitative"}}},
 {"data":{"name":"ann"},"transform":[{"filter":"datum.gene==='MTPAP'"}],"mark":{"type":"rule","strokeWidth":1.5},"encoding":{"x":{"field":"g1","type":"nominal","bandPosition":0.5},"x2":{"field":"g2","bandPosition":0.5},"y":{"field":"level","type":"quantitative"},"color":{"condition":{"test":"datum.sig==='yes'","value":"#c62d2d"},"value":"#1a1a1a"}}},
 {"data":{"name":"ann"},"transform":[{"filter":"datum.gene==='MTPAP' && datum.pair!=='C-S'"}],"mark":{"type":"text","fontSize":12.5,"baseline":"alphabetic","dy":-2},"encoding":{"x":{"field":"g1","type":"nominal","bandPosition":1},"y":{"field":"level","type":"quantitative"},"text":{"field":"label"},"color":{"condition":{"test":"datum.sig==='yes'","value":"#c62d2d"},"value":"#1a1a1a"}}},
 {"data":{"name":"ann"},"transform":[{"filter":"datum.gene==='MTPAP' && datum.pair==='C-S'"}],"mark":{"type":"text","fontSize":12.5,"baseline":"alphabetic","dy":-2},"encoding":{"x":{"datum":"MDD-NS","type":"nominal","bandPosition":0.5},"y":{"field":"level","type":"quantitative"},"text":{"field":"label"},"color":{"condition":{"test":"datum.sig==='yes'","value":"#c62d2d"},"value":"#1a1a1a"}}}
]},
{"width": 201, "height": 130, "layer": [
 {"data":{"name":"boxes"},"transform":[{"filter":"datum.gene==='SLC25A26'"}],"mark":{"type":"rule","color":"#555555","strokeWidth":1.5},"encoding":{"x":{"field":"group","type":"nominal","bandPosition":0.5,"scale":{"type":"band","domain":["Control","MDD-NS","MDD-S"],"paddingInner":0,"paddingOuter":0},"axis":{"title":null}},"y":{"field":"lo","type":"quantitative","scale":{"domain":[3.25,10.21],"nice":false,"zero":false},"axis":{"title":"SLC25A26","values":[4,6,8,10]}},"y2":{"field":"hi"}}},
 {"data":{"name":"boxes"},"transform":[{"filter":"datum.gene==='SLC25A26'"}],"mark":{"type":"bar","width":{"band":0.8},"stroke":"#555555","strokeWidth":1.5},"encoding":{"x":{"field":"group","type":"nominal"},"y":{"field":"q1","type":"quantitative"},"y2":{"field":"q3"},"fill":{"field":"group","type":"nominal","scale":{"domain":["Control","MDD-NS","MDD-S"],"range":["#4a86c8","#c8c8c8","#ef8576"]},"legend":null}}},
 {"data":{"name":"boxes"},"transform":[{"filter":"datum.gene==='SLC25A26'"}],"mark":{"type":"tick","orient":"horizontal","size":54,"thickness":1.5,"color":"#555555"},"encoding":{"x":{"field":"group","type":"nominal"},"y":{"field":"med","type":"quantitative"}}},
 {"data":{"name":"boxes"},"transform":[{"filter":"datum.gene==='SLC25A26'"},{"fold":["lo","hi"],"as":["k","v"]}],"mark":{"type":"tick","orient":"horizontal","size":27,"thickness":1.5,"color":"#555555"},"encoding":{"x":{"field":"group","type":"nominal"},"y":{"field":"v","type":"quantitative"}}},
 {"data":{"name":"points"},"transform":[{"filter":"datum.gene==='SLC25A26'"}],"mark":{"type":"circle","size":14,"color":"#3d3d3d","opacity":1},"encoding":{"x":{"field":"group","type":"nominal","bandPosition":0.5},"y":{"field":"value","type":"quantitative"}}},
 {"data":{"name":"ann"},"transform":[{"filter":"datum.gene==='SLC25A26'"}],"mark":{"type":"rule","strokeWidth":1.5},"encoding":{"x":{"field":"g1","type":"nominal","bandPosition":0.5},"x2":{"field":"g2","bandPosition":0.5},"y":{"field":"level","type":"quantitative"},"color":{"condition":{"test":"datum.sig==='yes'","value":"#c62d2d"},"value":"#1a1a1a"}}},
 {"data":{"name":"ann"},"transform":[{"filter":"datum.gene==='SLC25A26' && datum.pair!=='C-S'"}],"mark":{"type":"text","fontSize":12.5,"baseline":"alphabetic","dy":-2},"encoding":{"x":{"field":"g1","type":"nominal","bandPosition":1},"y":{"field":"level","type":"quantitative"},"text":{"field":"label"},"color":{"condition":{"test":"datum.sig==='yes'","value":"#c62d2d"},"value":"#1a1a1a"}}},
 {"data":{"name":"ann"},"transform":[{"filter":"datum.gene==='SLC25A26' && datum.pair==='C-S'"}],"mark":{"type":"text","fontSize":12.5,"baseline":"alphabetic","dy":-2},"encoding":{"x":{"datum":"MDD-NS","type":"nominal","bandPosition":0.5},"y":{"field":"level","type":"quantitative"},"text":{"field":"label"},"color":{"condition":{"test":"datum.sig==='yes'","value":"#c62d2d"},"value":"#1a1a1a"}}}
]}
], "spacing": 56, "bounds": "flush"},
{"hconcat": [
{"width": 201, "height": 130, "layer": [
 {"data":{"name":"boxes"},"transform":[{"filter":"datum.gene==='CD19'"}],"mark":{"type":"rule","color":"#555555","strokeWidth":1.5},"encoding":{"x":{"field":"group","type":"nominal","bandPosition":0.5,"scale":{"type":"band","domain":["Control","MDD-NS","MDD-S"],"paddingInner":0,"paddingOuter":0},"axis":{"title":null}},"y":{"field":"lo","type":"quantitative","scale":{"domain":[3.95,9.27],"nice":false,"zero":false},"axis":{"title":"CD19","values":[4,6,8]}},"y2":{"field":"hi"}}},
 {"data":{"name":"boxes"},"transform":[{"filter":"datum.gene==='CD19'"}],"mark":{"type":"bar","width":{"band":0.8},"stroke":"#555555","strokeWidth":1.5},"encoding":{"x":{"field":"group","type":"nominal"},"y":{"field":"q1","type":"quantitative"},"y2":{"field":"q3"},"fill":{"field":"group","type":"nominal","scale":{"domain":["Control","MDD-NS","MDD-S"],"range":["#4a86c8","#c8c8c8","#ef8576"]},"legend":null}}},
 {"data":{"name":"boxes"},"transform":[{"filter":"datum.gene==='CD19'"}],"mark":{"type":"tick","orient":"horizontal","size":54,"thickness":1.5,"color":"#555555"},"encoding":{"x":{"field":"group","type":"nominal"},"y":{"field":"med","type":"quantitative"}}},
 {"data":{"name":"boxes"},"transform":[{"filter":"datum.gene==='CD19'"},{"fold":["lo","hi"],"as":["k","v"]}],"mark":{"type":"tick","orient":"horizontal","size":27,"thickness":1.5,"color":"#555555"},"encoding":{"x":{"field":"group","type":"nominal"},"y":{"field":"v","type":"quantitative"}}},
 {"data":{"name":"points"},"transform":[{"filter":"datum.gene==='CD19'"}],"mark":{"type":"circle","size":14,"color":"#3d3d3d","opacity":1},"encoding":{"x":{"field":"group","type":"nominal","bandPosition":0.5},"y":{"field":"value","type":"quantitative"}}},
 {"data":{"name":"ann"},"transform":[{"filter":"datum.gene==='CD19'"}],"mark":{"type":"rule","strokeWidth":1.5},"encoding":{"x":{"field":"g1","type":"nominal","bandPosition":0.5},"x2":{"field":"g2","bandPosition":0.5},"y":{"field":"level","type":"quantitative"},"color":{"condition":{"test":"datum.sig==='yes'","value":"#c62d2d"},"value":"#1a1a1a"}}},
 {"data":{"name":"ann"},"transform":[{"filter":"datum.gene==='CD19' && datum.pair!=='C-S'"}],"mark":{"type":"text","fontSize":12.5,"baseline":"alphabetic","dy":-2},"encoding":{"x":{"field":"g1","type":"nominal","bandPosition":1},"y":{"field":"level","type":"quantitative"},"text":{"field":"label"},"color":{"condition":{"test":"datum.sig==='yes'","value":"#c62d2d"},"value":"#1a1a1a"}}},
 {"data":{"name":"ann"},"transform":[{"filter":"datum.gene==='CD19' && datum.pair==='C-S'"}],"mark":{"type":"text","fontSize":12.5,"baseline":"alphabetic","dy":-2},"encoding":{"x":{"datum":"MDD-NS","type":"nominal","bandPosition":0.5},"y":{"field":"level","type":"quantitative"},"text":{"field":"label"},"color":{"condition":{"test":"datum.sig==='yes'","value":"#c62d2d"},"value":"#1a1a1a"}}}
]},
{"width": 201, "height": 130, "layer": [
 {"data":{"name":"boxes"},"transform":[{"filter":"datum.gene==='SOX9'"}],"mark":{"type":"rule","color":"#555555","strokeWidth":1.5},"encoding":{"x":{"field":"group","type":"nominal","bandPosition":0.5,"scale":{"type":"band","domain":["Control","MDD-NS","MDD-S"],"paddingInner":0,"paddingOuter":0},"axis":{"title":null}},"y":{"field":"lo","type":"quantitative","scale":{"domain":[1.44,7.18],"nice":false,"zero":false},"axis":{"title":"SOX9","values":[2,4,6]}},"y2":{"field":"hi"}}},
 {"data":{"name":"boxes"},"transform":[{"filter":"datum.gene==='SOX9'"}],"mark":{"type":"bar","width":{"band":0.8},"stroke":"#555555","strokeWidth":1.5},"encoding":{"x":{"field":"group","type":"nominal"},"y":{"field":"q1","type":"quantitative"},"y2":{"field":"q3"},"fill":{"field":"group","type":"nominal","scale":{"domain":["Control","MDD-NS","MDD-S"],"range":["#4a86c8","#c8c8c8","#ef8576"]},"legend":null}}},
 {"data":{"name":"boxes"},"transform":[{"filter":"datum.gene==='SOX9'"}],"mark":{"type":"tick","orient":"horizontal","size":54,"thickness":1.5,"color":"#555555"},"encoding":{"x":{"field":"group","type":"nominal"},"y":{"field":"med","type":"quantitative"}}},
 {"data":{"name":"boxes"},"transform":[{"filter":"datum.gene==='SOX9'"},{"fold":["lo","hi"],"as":["k","v"]}],"mark":{"type":"tick","orient":"horizontal","size":27,"thickness":1.5,"color":"#555555"},"encoding":{"x":{"field":"group","type":"nominal"},"y":{"field":"v","type":"quantitative"}}},
 {"data":{"name":"points"},"transform":[{"filter":"datum.gene==='SOX9'"}],"mark":{"type":"circle","size":14,"color":"#3d3d3d","opacity":1},"encoding":{"x":{"field":"group","type":"nominal","bandPosition":0.5},"y":{"field":"value","type":"quantitative"}}},
 {"data":{"name":"ann"},"transform":[{"filter":"datum.gene==='SOX9'"}],"mark":{"type":"rule","strokeWidth":1.5},"encoding":{"x":{"field":"g1","type":"nominal","bandPosition":0.5},"x2":{"field":"g2","bandPosition":0.5},"y":{"field":"level","type":"quantitative"},"color":{"condition":{"test":"datum.sig==='yes'","value":"#c62d2d"},"value":"#1a1a1a"}}},
 {"data":{"name":"ann"},"transform":[{"filter":"datum.gene==='SOX9' && datum.pair!=='C-S'"}],"mark":{"type":"text","fontSize":12.5,"baseline":"alphabetic","dy":-2},"encoding":{"x":{"field":"g1","type":"nominal","bandPosition":1},"y":{"field":"level","type":"quantitative"},"text":{"field":"label"},"color":{"condition":{"test":"datum.sig==='yes'","value":"#c62d2d"},"value":"#1a1a1a"}}},
 {"data":{"name":"ann"},"transform":[{"filter":"datum.gene==='SOX9' && datum.pair==='C-S'"}],"mark":{"type":"text","fontSize":12.5,"baseline":"alphabetic","dy":-2},"encoding":{"x":{"datum":"MDD-NS","type":"nominal","bandPosition":0.5},"y":{"field":"level","type":"quantitative"},"text":{"field":"label"},"color":{"condition":{"test":"datum.sig==='yes'","value":"#c62d2d"},"value":"#1a1a1a"}}}
]},
{"width": 201, "height": 130, "layer": [
 {"data":{"name":"boxes"},"transform":[{"filter":"datum.gene==='CREB1'"}],"mark":{"type":"rule","color":"#555555","strokeWidth":1.5},"encoding":{"x":{"field":"group","type":"nominal","bandPosition":0.5,"scale":{"type":"band","domain":["Control","MDD-NS","MDD-S"],"paddingInner":0,"paddingOuter":0},"axis":{"title":null}},"y":{"field":"lo","type":"quantitative","scale":{"domain":[6.29,10.99],"nice":false,"zero":false},"axis":{"title":"CREB1","values":[8,10]}},"y2":{"field":"hi"}}},
 {"data":{"name":"boxes"},"transform":[{"filter":"datum.gene==='CREB1'"}],"mark":{"type":"bar","width":{"band":0.8},"stroke":"#555555","strokeWidth":1.5},"encoding":{"x":{"field":"group","type":"nominal"},"y":{"field":"q1","type":"quantitative"},"y2":{"field":"q3"},"fill":{"field":"group","type":"nominal","scale":{"domain":["Control","MDD-NS","MDD-S"],"range":["#4a86c8","#c8c8c8","#ef8576"]},"legend":null}}},
 {"data":{"name":"boxes"},"transform":[{"filter":"datum.gene==='CREB1'"}],"mark":{"type":"tick","orient":"horizontal","size":54,"thickness":1.5,"color":"#555555"},"encoding":{"x":{"field":"group","type":"nominal"},"y":{"field":"med","type":"quantitative"}}},
 {"data":{"name":"boxes"},"transform":[{"filter":"datum.gene==='CREB1'"},{"fold":["lo","hi"],"as":["k","v"]}],"mark":{"type":"tick","orient":"horizontal","size":27,"thickness":1.5,"color":"#555555"},"encoding":{"x":{"field":"group","type":"nominal"},"y":{"field":"v","type":"quantitative"}}},
 {"data":{"name":"points"},"transform":[{"filter":"datum.gene==='CREB1'"}],"mark":{"type":"circle","size":14,"color":"#3d3d3d","opacity":1},"encoding":{"x":{"field":"group","type":"nominal","bandPosition":0.5},"y":{"field":"value","type":"quantitative"}}},
 {"data":{"name":"ann"},"transform":[{"filter":"datum.gene==='CREB1'"}],"mark":{"type":"rule","strokeWidth":1.5},"encoding":{"x":{"field":"g1","type":"nominal","bandPosition":0.5},"x2":{"field":"g2","bandPosition":0.5},"y":{"field":"level","type":"quantitative"},"color":{"condition":{"test":"datum.sig==='yes'","value":"#c62d2d"},"value":"#1a1a1a"}}},
 {"data":{"name":"ann"},"transform":[{"filter":"datum.gene==='CREB1' && datum.pair!=='C-S'"}],"mark":{"type":"text","fontSize":12.5,"baseline":"alphabetic","dy":-2},"encoding":{"x":{"field":"g1","type":"nominal","bandPosition":1},"y":{"field":"level","type":"quantitative"},"text":{"field":"label"},"color":{"condition":{"test":"datum.sig==='yes'","value":"#c62d2d"},"value":"#1a1a1a"}}},
 {"data":{"name":"ann"},"transform":[{"filter":"datum.gene==='CREB1' && datum.pair==='C-S'"}],"mark":{"type":"text","fontSize":12.5,"baseline":"alphabetic","dy":-2},"encoding":{"x":{"datum":"MDD-NS","type":"nominal","bandPosition":0.5},"y":{"field":"level","type":"quantitative"},"text":{"field":"label"},"color":{"condition":{"test":"datum.sig==='yes'","value":"#c62d2d"},"value":"#1a1a1a"}}}
]}
], "spacing": 56, "bounds": "flush"},
{"hconcat": [
{"width": 201, "height": 130, "layer": [
 {"data":{"name":"boxes"},"transform":[{"filter":"datum.gene==='CD6'"}],"mark":{"type":"rule","color":"#555555","strokeWidth":1.5},"encoding":{"x":{"field":"group","type":"nominal","bandPosition":0.5,"scale":{"type":"band","domain":["Control","MDD-NS","MDD-S"],"paddingInner":0,"paddingOuter":0},"axis":{"title":null}},"y":{"field":"lo","type":"quantitative","scale":{"domain":[4.04,11.28],"nice":false,"zero":false},"axis":{"title":"CD6","values":[6,8,10]}},"y2":{"field":"hi"}}},
 {"data":{"name":"boxes"},"transform":[{"filter":"datum.gene==='CD6'"}],"mark":{"type":"bar","width":{"band":0.8},"stroke":"#555555","strokeWidth":1.5},"encoding":{"x":{"field":"group","type":"nominal"},"y":{"field":"q1","type":"quantitative"},"y2":{"field":"q3"},"fill":{"field":"group","type":"nominal","scale":{"domain":["Control","MDD-NS","MDD-S"],"range":["#4a86c8","#c8c8c8","#ef8576"]},"legend":null}}},
 {"data":{"name":"boxes"},"transform":[{"filter":"datum.gene==='CD6'"}],"mark":{"type":"tick","orient":"horizontal","size":54,"thickness":1.5,"color":"#555555"},"encoding":{"x":{"field":"group","type":"nominal"},"y":{"field":"med","type":"quantitative"}}},
 {"data":{"name":"boxes"},"transform":[{"filter":"datum.gene==='CD6'"},{"fold":["lo","hi"],"as":["k","v"]}],"mark":{"type":"tick","orient":"horizontal","size":27,"thickness":1.5,"color":"#555555"},"encoding":{"x":{"field":"group","type":"nominal"},"y":{"field":"v","type":"quantitative"}}},
 {"data":{"name":"points"},"transform":[{"filter":"datum.gene==='CD6'"}],"mark":{"type":"circle","size":14,"color":"#3d3d3d","opacity":1},"encoding":{"x":{"field":"group","type":"nominal","bandPosition":0.5},"y":{"field":"value","type":"quantitative"}}},
 {"data":{"name":"ann"},"transform":[{"filter":"datum.gene==='CD6'"}],"mark":{"type":"rule","strokeWidth":1.5},"encoding":{"x":{"field":"g1","type":"nominal","bandPosition":0.5},"x2":{"field":"g2","bandPosition":0.5},"y":{"field":"level","type":"quantitative"},"color":{"condition":{"test":"datum.sig==='yes'","value":"#c62d2d"},"value":"#1a1a1a"}}},
 {"data":{"name":"ann"},"transform":[{"filter":"datum.gene==='CD6' && datum.pair!=='C-S'"}],"mark":{"type":"text","fontSize":12.5,"baseline":"alphabetic","dy":-2},"encoding":{"x":{"field":"g1","type":"nominal","bandPosition":1},"y":{"field":"level","type":"quantitative"},"text":{"field":"label"},"color":{"condition":{"test":"datum.sig==='yes'","value":"#c62d2d"},"value":"#1a1a1a"}}},
 {"data":{"name":"ann"},"transform":[{"filter":"datum.gene==='CD6' && datum.pair==='C-S'"}],"mark":{"type":"text","fontSize":12.5,"baseline":"alphabetic","dy":-2},"encoding":{"x":{"datum":"MDD-NS","type":"nominal","bandPosition":0.5},"y":{"field":"level","type":"quantitative"},"text":{"field":"label"},"color":{"condition":{"test":"datum.sig==='yes'","value":"#c62d2d"},"value":"#1a1a1a"}}}
]},
{"width": 201, "height": 130, "layer": [
 {"data":{"name":"boxes"},"transform":[{"filter":"datum.gene==='TERF1'"}],"mark":{"type":"rule","color":"#555555","strokeWidth":1.5},"encoding":{"x":{"field":"group","type":"nominal","bandPosition":0.5,"scale":{"type":"band","domain":["Control","MDD-NS","MDD-S"],"paddingInner":0,"paddingOuter":0},"axis":{"title":null}},"y":{"field":"lo","type":"quantitative","scale":{"domain":[6.57,9.76],"nice":false,"zero":false},"axis":{"title":"TERF1","values":[7,8,9]}},"y2":{"field":"hi"}}},
 {"data":{"name":"boxes"},"transform":[{"filter":"datum.gene==='TERF1'"}],"mark":{"type":"bar","width":{"band":0.8},"stroke":"#555555","strokeWidth":1.5},"encoding":{"x":{"field":"group","type":"nominal"},"y":{"field":"q1","type":"quantitative"},"y2":{"field":"q3"},"fill":{"field":"group","type":"nominal","scale":{"domain":["Control","MDD-NS","MDD-S"],"range":["#4a86c8","#c8c8c8","#ef8576"]},"legend":null}}},
 {"data":{"name":"boxes"},"transform":[{"filter":"datum.gene==='TERF1'"}],"mark":{"type":"tick","orient":"horizontal","size":54,"thickness":1.5,"color":"#555555"},"encoding":{"x":{"field":"group","type":"nominal"},"y":{"field":"med","type":"quantitative"}}},
 {"data":{"name":"boxes"},"transform":[{"filter":"datum.gene==='TERF1'"},{"fold":["lo","hi"],"as":["k","v"]}],"mark":{"type":"tick","orient":"horizontal","size":27,"thickness":1.5,"color":"#555555"},"encoding":{"x":{"field":"group","type":"nominal"},"y":{"field":"v","type":"quantitative"}}},
 {"data":{"name":"points"},"transform":[{"filter":"datum.gene==='TERF1'"}],"mark":{"type":"circle","size":14,"color":"#3d3d3d","opacity":1},"encoding":{"x":{"field":"group","type":"nominal","bandPosition":0.5},"y":{"field":"value","type":"quantitative"}}},
 {"data":{"name":"ann"},"transform":[{"filter":"datum.gene==='TERF1'"}],"mark":{"type":"rule","strokeWidth":1.5},"encoding":{"x":{"field":"g1","type":"nominal","bandPosition":0.5},"x2":{"field":"g2","bandPosition":0.5},"y":{"field":"level","type":"quantitative"},"color":{"condition":{"test":"datum.sig==='yes'","value":"#c62d2d"},"value":"#1a1a1a"}}},
 {"data":{"name":"ann"},"transform":[{"filter":"datum.gene==='TERF1' && datum.pair!=='C-S'"}],"mark":{"type":"text","fontSize":12.5,"baseline":"alphabetic","dy":-2},"encoding":{"x":{"field":"g1","type":"nominal","bandPosition":1},"y":{"field":"level","type":"quantitative"},"text":{"field":"label"},"color":{"condition":{"test":"datum.sig==='yes'","value":"#c62d2d"},"value":"#1a1a1a"}}},
 {"data":{"name":"ann"},"transform":[{"filter":"datum.gene==='TERF1' && datum.pair==='C-S'"}],"mark":{"type":"text","fontSize":12.5,"baseline":"alphabetic","dy":-2},"encoding":{"x":{"datum":"MDD-NS","type":"nominal","bandPosition":0.5},"y":{"field":"level","type":"quantitative"},"text":{"field":"label"},"color":{"condition":{"test":"datum.sig==='yes'","value":"#c62d2d"},"value":"#1a1a1a"}}}
]},
{"width": 201, "height": 130, "layer": [
 {"data":{"name":"boxes"},"transform":[{"filter":"datum.gene==='POT1'"}],"mark":{"type":"rule","color":"#555555","strokeWidth":1.5},"encoding":{"x":{"field":"group","type":"nominal","bandPosition":0.5,"scale":{"type":"band","domain":["Control","MDD-NS","MDD-S"],"paddingInner":0,"paddingOuter":0},"axis":{"title":null}},"y":{"field":"lo","type":"quantitative","scale":{"domain":[3.91,8.74],"nice":false,"zero":false},"axis":{"title":"POT1","values":[4,6,8]}},"y2":{"field":"hi"}}},
 {"data":{"name":"boxes"},"transform":[{"filter":"datum.gene==='POT1'"}],"mark":{"type":"bar","width":{"band":0.8},"stroke":"#555555","strokeWidth":1.5},"encoding":{"x":{"field":"group","type":"nominal"},"y":{"field":"q1","type":"quantitative"},"y2":{"field":"q3"},"fill":{"field":"group","type":"nominal","scale":{"domain":["Control","MDD-NS","MDD-S"],"range":["#4a86c8","#c8c8c8","#ef8576"]},"legend":null}}},
 {"data":{"name":"boxes"},"transform":[{"filter":"datum.gene==='POT1'"}],"mark":{"type":"tick","orient":"horizontal","size":54,"thickness":1.5,"color":"#555555"},"encoding":{"x":{"field":"group","type":"nominal"},"y":{"field":"med","type":"quantitative"}}},
 {"data":{"name":"boxes"},"transform":[{"filter":"datum.gene==='POT1'"},{"fold":["lo","hi"],"as":["k","v"]}],"mark":{"type":"tick","orient":"horizontal","size":27,"thickness":1.5,"color":"#555555"},"encoding":{"x":{"field":"group","type":"nominal"},"y":{"field":"v","type":"quantitative"}}},
 {"data":{"name":"points"},"transform":[{"filter":"datum.gene==='POT1'"}],"mark":{"type":"circle","size":14,"color":"#3d3d3d","opacity":1},"encoding":{"x":{"field":"group","type":"nominal","bandPosition":0.5},"y":{"field":"value","type":"quantitative"}}},
 {"data":{"name":"ann"},"transform":[{"filter":"datum.gene==='POT1'"}],"mark":{"type":"rule","strokeWidth":1.5},"encoding":{"x":{"field":"g1","type":"nominal","bandPosition":0.5},"x2":{"field":"g2","bandPosition":0.5},"y":{"field":"level","type":"quantitative"},"color":{"condition":{"test":"datum.sig==='yes'","value":"#c62d2d"},"value":"#1a1a1a"}}},
 {"data":{"name":"ann"},"transform":[{"filter":"datum.gene==='POT1' && datum.pair!=='C-S'"}],"mark":{"type":"text","fontSize":12.5,"baseline":"alphabetic","dy":-2},"encoding":{"x":{"field":"g1","type":"nominal","bandPosition":1},"y":{"field":"level","type":"quantitative"},"text":{"field":"label"},"color":{"condition":{"test":"datum.sig==='yes'","value":"#c62d2d"},"value":"#1a1a1a"}}},
 {"data":{"name":"ann"},"transform":[{"filter":"datum.gene==='POT1' && datum.pair==='C-S'"}],"mark":{"type":"text","fontSize":12.5,"baseline":"alphabetic","dy":-2},"encoding":{"x":{"datum":"MDD-NS","type":"nominal","bandPosition":0.5},"y":{"field":"level","type":"quantitative"},"text":{"field":"label"},"color":{"condition":{"test":"datum.sig==='yes'","value":"#c62d2d"},"value":"#1a1a1a"}}}
]}
], "spacing": 56, "bounds": "flush"},
{"hconcat": [
{"width": 203, "height": 134, "layer": [
 {"data":{"name":"boxes"},"transform":[{"filter":"datum.gene==='GPR37'"}],"mark":{"type":"rule","color":"#555555","strokeWidth":1.5},"encoding":{"x":{"field":"group","type":"nominal","bandPosition":0.5,"scale":{"type":"band","domain":["Control","MDD-NS","MDD-S"],"paddingInner":0,"paddingOuter":0},"axis":{"title":null}},"y":{"field":"lo","type":"quantitative","scale":{"domain":[1.97,6.72],"nice":false,"zero":false},"axis":{"title":"GPR37","values":[2,4,6]}},"y2":{"field":"hi"}}},
 {"data":{"name":"boxes"},"transform":[{"filter":"datum.gene==='GPR37'"}],"mark":{"type":"bar","width":{"band":0.8},"stroke":"#555555","strokeWidth":1.5},"encoding":{"x":{"field":"group","type":"nominal"},"y":{"field":"q1","type":"quantitative"},"y2":{"field":"q3"},"fill":{"field":"group","type":"nominal","scale":{"domain":["Control","MDD-NS","MDD-S"],"range":["#4a86c8","#c8c8c8","#ef8576"]},"legend":null}}},
 {"data":{"name":"boxes"},"transform":[{"filter":"datum.gene==='GPR37'"}],"mark":{"type":"tick","orient":"horizontal","size":54,"thickness":1.5,"color":"#555555"},"encoding":{"x":{"field":"group","type":"nominal"},"y":{"field":"med","type":"quantitative"}}},
 {"data":{"name":"boxes"},"transform":[{"filter":"datum.gene==='GPR37'"},{"fold":["lo","hi"],"as":["k","v"]}],"mark":{"type":"tick","orient":"horizontal","size":27,"thickness":1.5,"color":"#555555"},"encoding":{"x":{"field":"group","type":"nominal"},"y":{"field":"v","type":"quantitative"}}},
 {"data":{"name":"points"},"transform":[{"filter":"datum.gene==='GPR37'"}],"mark":{"type":"circle","size":14,"color":"#3d3d3d","opacity":1},"encoding":{"x":{"field":"group","type":"nominal","bandPosition":0.5},"y":{"field":"value","type":"quantitative"}}},
 {"data":{"name":"ann"},"transform":[{"filter":"datum.gene==='GPR37'"}],"mark":{"type":"rule","strokeWidth":1.5},"encoding":{"x":{"field":"g1","type":"nominal","bandPosition":0.5},"x2":{"field":"g2","bandPosition":0.5},"y":{"field":"level","type":"quantitative"},"color":{"condition":{"test":"datum.sig==='yes'","value":"#c62d2d"},"value":"#1a1a1a"}}},
 {"data":{"name":"ann"},"transform":[{"filter":"datum.gene==='GPR37' && datum.pair!=='C-S'"}],"mark":{"type":"text","fontSize":12.5,"baseline":"alphabetic","dy":-2},"encoding":{"x":{"field":"g1","type":"nominal","bandPosition":1},"y":{"field":"level","type":"quantitative"},"text":{"field":"label"},"color":{"condition":{"test":"datum.sig==='yes'","value":"#c62d2d"},"value":"#1a1a1a"}}},
 {"data":{"name":"ann"},"transform":[{"filter":"datum.gene==='GPR37' && datum.pair==='C-S'"}],"mark":{"type":"text","fontSize":12.5,"baseline":"alphabetic","dy":-2},"encoding":{"x":{"datum":"MDD-NS","type":"nominal","bandPosition":0.5},"y":{"field":"level","type":"quantitative"},"text":{"field":"label"},"color":{"condition":{"test":"datum.sig==='yes'","value":"#c62d2d"},"value":"#1a1a1a"}}}
]},
{"width": 203, "height": 134, "layer": [
 {"data":{"name":"boxes"},"transform":[{"filter":"datum.gene==='NR3C1'"}],"mark":{"type":"rule","color":"#555555","strokeWidth":1.5},"encoding":{"x":{"field":"group","type":"nominal","bandPosition":0.5,"scale":{"type":"band","domain":["Control","MDD-NS","MDD-S"],"paddingInner":0,"paddingOuter":0},"axis":{"title":null}},"y":{"field":"lo","type":"quantitative","scale":{"domain":[6.03,12.26],"nice":false,"zero":false},"axis":{"title":"NR3C1","values":[8,10,12]}},"y2":{"field":"hi"}}},
 {"data":{"name":"boxes"},"transform":[{"filter":"datum.gene==='NR3C1'"}],"mark":{"type":"bar","width":{"band":0.8},"stroke":"#555555","strokeWidth":1.5},"encoding":{"x":{"field":"group","type":"nominal"},"y":{"field":"q1","type":"quantitative"},"y2":{"field":"q3"},"fill":{"field":"group","type":"nominal","scale":{"domain":["Control","MDD-NS","MDD-S"],"range":["#4a86c8","#c8c8c8","#ef8576"]},"legend":null}}},
 {"data":{"name":"boxes"},"transform":[{"filter":"datum.gene==='NR3C1'"}],"mark":{"type":"tick","orient":"horizontal","size":54,"thickness":1.5,"color":"#555555"},"encoding":{"x":{"field":"group","type":"nominal"},"y":{"field":"med","type":"quantitative"}}},
 {"data":{"name":"boxes"},"transform":[{"filter":"datum.gene==='NR3C1'"},{"fold":["lo","hi"],"as":["k","v"]}],"mark":{"type":"tick","orient":"horizontal","size":27,"thickness":1.5,"color":"#555555"},"encoding":{"x":{"field":"group","type":"nominal"},"y":{"field":"v","type":"quantitative"}}},
 {"data":{"name":"points"},"transform":[{"filter":"datum.gene==='NR3C1'"}],"mark":{"type":"circle","size":14,"color":"#3d3d3d","opacity":1},"encoding":{"x":{"field":"group","type":"nominal","bandPosition":0.5},"y":{"field":"value","type":"quantitative"}}},
 {"data":{"name":"ann"},"transform":[{"filter":"datum.gene==='NR3C1'"}],"mark":{"type":"rule","strokeWidth":1.5},"encoding":{"x":{"field":"g1","type":"nominal","bandPosition":0.5},"x2":{"field":"g2","bandPosition":0.5},"y":{"field":"level","type":"quantitative"},"color":{"condition":{"test":"datum.sig==='yes'","value":"#c62d2d"},"value":"#1a1a1a"}}},
 {"data":{"name":"ann"},"transform":[{"filter":"datum.gene==='NR3C1' && datum.pair!=='C-S'"}],"mark":{"type":"text","fontSize":12.5,"baseline":"alphabetic","dy":-2},"encoding":{"x":{"field":"g1","type":"nominal","bandPosition":1},"y":{"field":"level","type":"quantitative"},"text":{"field":"label"},"color":{"condition":{"test":"datum.sig==='yes'","value":"#c62d2d"},"value":"#1a1a1a"}}},
 {"data":{"name":"ann"},"transform":[{"filter":"datum.gene==='NR3C1' && datum.pair==='C-S'"}],"mark":{"type":"text","fontSize":12.5,"baseline":"alphabetic","dy":-2},"encoding":{"x":{"datum":"MDD-NS","type":"nominal","bandPosition":0.5},"y":{"field":"level","type":"quantitative"},"text":{"field":"label"},"color":{"condition":{"test":"datum.sig==='yes'","value":"#c62d2d"},"value":"#1a1a1a"}}}
]}
], "spacing": 61, "bounds": "flush"}
],
"spacing": 15, "center": true
}
